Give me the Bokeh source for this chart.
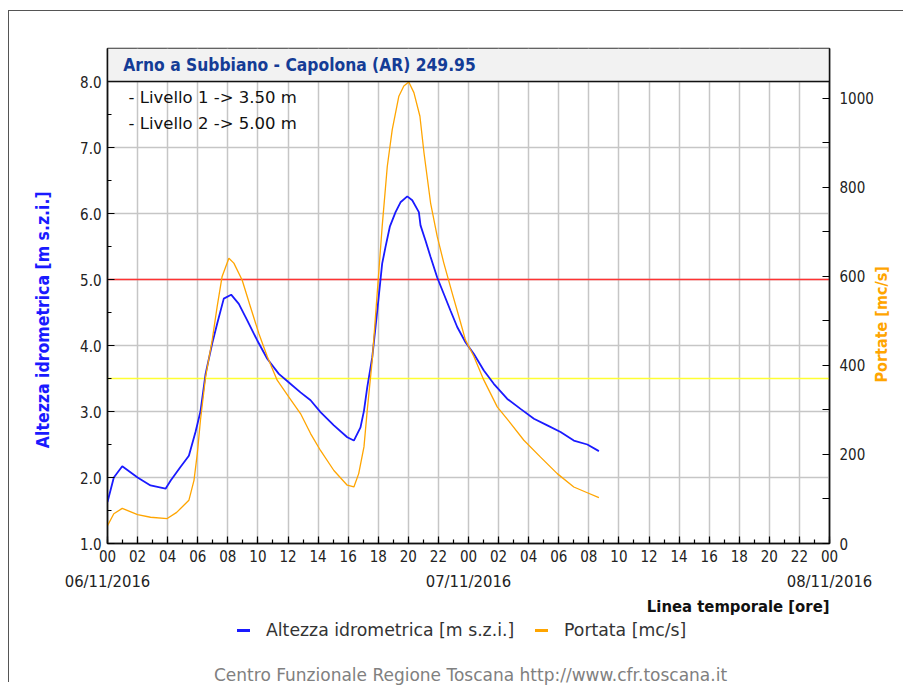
import math
from bokeh.plotting import figure
from bokeh.layouts import column
from bokeh.models import (Range1d, LinearAxis, FixedTicker, Title, Label, Span, Div)
from bokeh.embed import file_html
from bokeh.resources import INLINE

# ---------------- data ----------------
station = "Arno a Subbiano - Capolona (AR) 249.95"

level_hours = [0.0, 0.42, 0.98, 2.0, 2.86, 3.86, 4.19, 4.85, 5.41, 5.85, 6.18, 6.52,
               6.96, 7.29, 7.73, 8.22, 8.73, 9.29, 9.95, 10.62, 11.39, 12.06, 12.83,
               13.5, 14.16, 15.05, 15.94, 16.38, 16.82, 17.05, 17.27, 17.6, 17.82,
               18.04, 18.26, 18.48, 18.77, 19.15, 19.48, 19.93, 20.26, 20.7, 20.81,
               21.14, 21.48, 21.92, 22.36, 22.8, 23.25, 23.8, 24.36, 25.02, 25.68,
               26.58, 27.46, 28.35, 29.24, 30.12, 31.0, 31.9, 32.67]
level_m = [1.63, 2.00, 2.17, 2.00, 1.88, 1.83, 1.95, 2.16, 2.33, 2.69, 3.00, 3.57,
           4.03, 4.33, 4.71, 4.77, 4.63, 4.38, 4.08, 3.80, 3.57, 3.44, 3.29,
           3.17, 2.99, 2.79, 2.61, 2.56, 2.76, 3.01, 3.37, 3.82, 4.28,
           4.76, 5.24, 5.49, 5.80, 6.02, 6.17, 6.26, 6.20, 6.02, 5.82,
           5.59, 5.34, 5.03, 4.78, 4.53, 4.28, 4.05, 3.87, 3.62, 3.42,
           3.19, 3.04, 2.89, 2.79, 2.69, 2.56, 2.50, 2.40]

flow_hours = [0.0, 0.42, 0.98, 2.0, 2.86, 3.97, 4.6, 5.41, 5.75, 5.97, 6.18, 6.52,
              6.96, 7.29, 7.62, 8.07, 8.4, 8.95, 9.5, 10.06, 10.62, 11.28, 12.06,
              12.83, 13.5, 14.16, 15.05, 15.94, 16.38, 16.7, 17.05, 17.27, 17.6,
              17.93, 18.26, 18.6, 18.93, 19.37, 19.7, 20.03, 20.37, 20.77, 21.04,
              21.48, 21.92, 22.36, 22.92, 23.36, 23.8, 24.36, 25.02, 25.91, 26.8,
              27.68, 28.79, 29.9, 31.0, 31.9, 32.67]
flow_mcs = [40, 67, 79, 65, 59, 56, 70, 97, 142, 202, 277, 374,
            457, 532, 600, 641, 630, 592, 532, 472, 420, 367, 329,
            292, 247, 209, 164, 131, 127, 157, 217, 300, 412,
            562, 712, 847, 930, 1005, 1028, 1037, 1013, 960, 878,
            765, 690, 630, 562, 510, 457, 420, 367, 307, 270,
            232, 194, 157, 127, 114, 103]

threshold_levels = [3.5, 5.0]
threshold_texts = ["- Livello 1 -> 3.50 m", "- Livello 2 -> 5.00 m"]

hour_ticks = [0, 2, 4, 6, 8, 10, 12, 14, 16, 18, 20, 22, 24,
              26, 28, 30, 32, 34, 36, 38, 40, 42, 44, 46, 48]
hour_labels = ["00", "02", "04", "06", "08", "10", "12", "14", "16", "18", "20", "22", "00",
               "02", "04", "06", "08", "10", "12", "14", "16", "18", "20", "22", "00"]
date_ticks = [0, 24, 48]
date_labels = ["06/11/2016", "07/11/2016", "08/11/2016"]
level_ticks = [1, 2, 3, 4, 5, 6, 7, 8]
level_labels = ["1.0", "2.0", "3.0", "4.0", "5.0", "6.0", "7.0", "8.0"]
flow_ticks = [0, 200, 400, 600, 800, 1000]
flow_at_level_top = 1038.0   # discharge value aligned with 8.0 m

level_title = "Altezza idrometrica [m s.z.i.]"
flow_title = "Portate [mc/s]"
time_title = "Linea temporale [ore]"
legend_labels = ["Altezza idrometrica [m s.z.i.]", "Portata [mc/s]"]
footer = "Centro Funzionale Regione Toscana http://www.cfr.toscana.it"

BLUE = "#1a1aff"
ORANGE = "#ffa500"

# ---------------- styling ----------------
FONT = "DejaVu Sans Condensed"
X0, X1 = 0, 48
Y0, Y1 = 1.0, 8.0
HEADER = 0.5          # header band height in level units

p = figure(frame_width=722, frame_height=495, output_backend="svg", toolbar_location=None,
           x_range=Range1d(X0, X1), y_range=Range1d(Y0, Y1 + HEADER),
           min_border_left=107, min_border_right=66, min_border_top=48,
           min_border_bottom=77)
p.border_fill_color = None
p.background_fill_color = "white"
p.outline_line_color = "#333333"
p.outline_line_width = 1.5

p.extra_y_ranges = {"q": Range1d(0, flow_at_level_top * (Y1 + HEADER - Y0) / (Y1 - Y0))}

# grid
p.xgrid.ticker = FixedTicker(ticks=hour_ticks)
p.ygrid.ticker = FixedTicker(ticks=level_ticks)
for g in (p.xgrid, p.ygrid):
    g.grid_line_color = "#c6c6c6"
    g.grid_line_width = 1.5

# left axis
ya = p.yaxis[0]
ya.ticker = FixedTicker(ticks=level_ticks, minor_ticks=[t + 0.5 for t in level_ticks[:-1]])
ya.major_label_overrides = dict(zip(level_ticks, level_labels))

# bottom axis
xa = p.xaxis[0]
xa.ticker = FixedTicker(ticks=hour_ticks, minor_ticks=list(range(X0, X1 + 1)))
xa.major_label_overrides = dict(zip(hour_ticks, hour_labels))

# right axis
ra = LinearAxis(y_range_name="q",
                ticker=FixedTicker(ticks=flow_ticks, minor_ticks=[100, 300, 500, 700, 900]))
p.add_layout(ra, "right")

# date axis
da = LinearAxis(ticker=FixedTicker(ticks=date_ticks))
da.major_label_overrides = dict(zip(date_ticks, date_labels))
p.add_layout(da, "below")

for ax in (ya, xa, ra, da):
    ax.axis_line_color = "#111111"
    ax.axis_line_width = 1.5
    ax.major_tick_in = 7
    ax.major_tick_out = 0
    ax.minor_tick_in = 4
    ax.minor_tick_out = 0
    ax.major_tick_line_width = 1.2
    ax.minor_tick_line_width = 1.2
    ax.major_label_text_font = FONT
    ax.major_label_text_font_size = "15px"
    ax.major_label_text_color = "#222222"
da.axis_line_color = None
da.major_tick_line_color = None
da.minor_tick_line_color = None
da.major_label_text_font_size = "16.5px"
ra.minor_tick_in = 7
xa.major_label_standoff = 6
ya.major_label_standoff = 6
ra.major_label_standoff = 10
da.major_label_standoff = 7


def title_axis(side, tick, text, color, size, standoff, orientation):
    ax = LinearAxis(ticker=FixedTicker(ticks=[tick]), major_label_overrides={tick: text})
    ax.axis_line_color = None
    ax.major_tick_line_color = None
    ax.minor_tick_line_color = None
    ax.major_tick_in = 0
    ax.major_tick_out = 0
    ax.major_label_orientation = orientation
    ax.major_label_text_font = FONT
    ax.major_label_text_font_style = "bold"
    ax.major_label_text_font_size = size
    ax.major_label_text_color = color
    ax.major_label_standoff = standoff
    p.add_layout(ax, side)


title_axis("left", 4.39, level_title, BLUE, "17.5px", 24, "vertical")
title_axis("right", 3.44, flow_title, ORANGE, "16px", 5, math.pi / 2)

# header band
p.quad(left=[X0], right=[X1], bottom=[Y1], top=[Y1 + HEADER],
       fill_color="#f2f2f2", line_color=None)
p.add_layout(Span(location=Y1, dimension="width", line_color="#111111", line_width=1.5))
p.add_layout(Label(x=1.05, y=Y1 + HEADER / 2, text=station, text_font=FONT,
                   text_font_style="bold", text_font_size="17.3px", text_color="#143c96",
                   text_baseline="middle"))

# thresholds
p.hspan(y=[threshold_levels[0]], line_color="#ffff33", line_width=1.5)
p.hspan(y=[threshold_levels[1]], line_color="#ff3333", line_width=1.5)
for i, t in enumerate(threshold_texts):
    p.add_layout(Label(x=1.4, y=7.76 - 0.4 * i, text=t, text_font="DejaVu Sans",
                       text_font_size="16.5px", text_color="#111111",
                       text_baseline="middle"))

# series
p.line(level_hours, level_m, line_color=BLUE, line_width=1.8)
p.line(flow_hours, flow_mcs, y_range_name="q", line_color=ORANGE, line_width=1.3)

p.add_layout(Title(text=time_title, align="right", text_font=FONT, standoff=3,
                   text_font_style="bold", text_font_size="16.5px", text_color="#111111"),
             "below")

# legend + footer (HTML below the figure)
legend_colors = [BLUE, ORANGE]
legend_left = [237, 535]
items = ""
for lab, col, x in zip(legend_labels, legend_colors, legend_left):
    items += (f'<div style="position:absolute;left:{x}px;top:9px;width:13px;height:3px;'
              f'background:{col};"></div>'
              f'<div style="position:absolute;left:{x + 29}px;top:0px;height:20px;'
              f'line-height:20px;white-space:nowrap;">{lab}</div>')
html = (f'<div style="position:relative;width:880px;height:62px;font-family:\'DejaVu Sans\';'
        f'font-size:17.3px;color:#333333;">{items}'
        f'<div style="position:absolute;left:214px;top:45px;height:20px;'
        f'line-height:20px;white-space:nowrap;color:#808080;'
        f'font-size:17px;">{footer}</div></div>')
div = Div(text=html, width=880, height=62, margin=0)

page = column(p, div, spacing=0,
              styles={"box-shadow": "inset 8px 10px 0 0 #ffffff, inset 9px 11px 0 0 #555555"})

open("out.html", "w").write(file_html(page, INLINE))
